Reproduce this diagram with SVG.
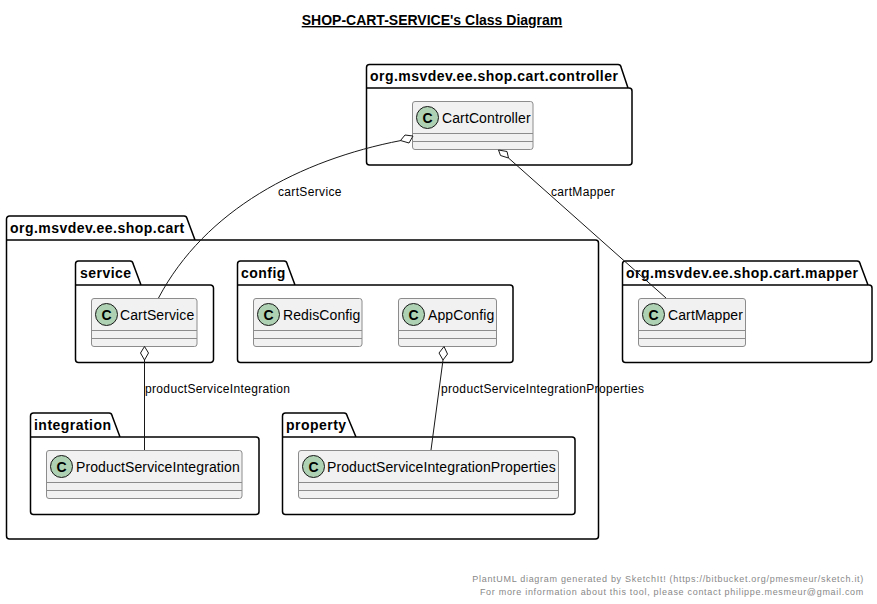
<svg xmlns="http://www.w3.org/2000/svg" width="877" height="604" viewBox="0 0 877 604">
<style>
text{font-family:"Liberation Sans",Arial,sans-serif;fill:#000}
.pkg path{fill:#fff;stroke:#000;stroke-width:1.5}
.pkg text{font-size:14px;font-weight:bold;letter-spacing:.47px}
.cls rect{fill:#F1F1F1;stroke:#8c8c8c;stroke-width:1}
.cls line{stroke:#8c8c8c;stroke-width:1}
.cls circle{fill:#ADD1B2;stroke:#181818;stroke-width:1}
.cls text{font-size:14px;letter-spacing:.11px}
.cls .g{font-size:14px;font-weight:bold;text-anchor:middle}
#connectors path{fill:none;stroke:#181818;stroke-width:1}
#connectors polygon{fill:#fff;stroke:#181818;stroke-width:1}
.lbl{font-size:12px;letter-spacing:.34px}
.foot{font-size:9px;fill:#888;letter-spacing:.7px;text-anchor:end}
</style>
<text x="432" y="25" font-size="14" font-weight="bold" text-anchor="middle" text-decoration="underline">SHOP-CART-SERVICE's Class Diagram</text>

<g id="pkg-controller" class="pkg"><path d="M369.500 64.500H618a3 3 0 0 1 3 2.500L628 88H629a3 3 0 0 1 3 3V162a3 3 0 0 1-3 3H369.500a3 3 0 0 1-3-3V67.500a3 3 0 0 1 3-3ZM366.500 88H628"/><text x="370" y="81">org.msvdev.ee.shop.cart.controller</text></g>
<g id="pkg-cart" class="pkg"><path d="M9.500 216H184a3 3 0 0 1 3 2.500L195 240H595.500a3 3 0 0 1 3 3V536a3 3 0 0 1-3 3H9.500a3 3 0 0 1-3-3V219a3 3 0 0 1 3-3ZM6.500 240H195"/><text x="10" y="233">org.msvdev.ee.shop.cart</text></g>
<g id="pkg-service" class="pkg"><path d="M78.500 261H130a3 3 0 0 1 3 2.500L141 285H210.500a3 3 0 0 1 3 3V359.500a3 3 0 0 1-3 3H78.500a3 3 0 0 1-3-3V264a3 3 0 0 1 3-3ZM75.500 285H141"/><text x="80" y="278">service</text></g>
<g id="pkg-config" class="pkg"><path d="M240.500 261H284a3 3 0 0 1 3 2.500L295 285H510a3 3 0 0 1 3 3V359.500a3 3 0 0 1-3 3H240.500a3 3 0 0 1-3-3V264a3 3 0 0 1 3-3ZM237.500 285H295"/><text x="241" y="278">config</text></g>
<g id="pkg-integration" class="pkg"><path d="M33.500 413H109a3 3 0 0 1 3 2.500L120 437H256a3 3 0 0 1 3 3V511.500a3 3 0 0 1-3 3H33.500a3 3 0 0 1-3-3V416a3 3 0 0 1 3-3ZM30.500 437H120"/><text x="34" y="430">integration</text></g>
<g id="pkg-property" class="pkg"><path d="M285.500 413H344a3 3 0 0 1 3 2.500L356 437H572a3 3 0 0 1 3 3V511.500a3 3 0 0 1-3 3H285.500a3 3 0 0 1-3-3V416a3 3 0 0 1 3-3ZM282.500 437H356"/><text x="286" y="430">property</text></g>
<g id="pkg-mapper" class="pkg"><path d="M625.500 261H857a3 3 0 0 1 3 2.500L868 285H869a3 3 0 0 1 3 3V359.500a3 3 0 0 1-3 3H625.500a3 3 0 0 1-3-3V264a3 3 0 0 1 3-3ZM622.500 285H868"/><text x="626" y="278">org.msvdev.ee.shop.cart.mapper</text></g>

<g id="CartController" class="cls"><rect x="412.500" y="101.500" width="120.500" height="48" rx="2.500"/><line x1="412.500" y1="133.500" x2="533" y2="133.500"/><line x1="412.500" y1="141.500" x2="533" y2="141.500"/><circle cx="427.500" cy="117.500" r="11"/><text class="g" x="427.500" y="122.500">C</text><text x="442" y="123">CartController</text></g>
<g id="CartService" class="cls"><rect x="91.500" y="298.500" width="105.500" height="48" rx="2.500"/><line x1="91.500" y1="330.500" x2="197" y2="330.500"/><line x1="91.500" y1="338.500" x2="197" y2="338.500"/><circle cx="106.500" cy="314.500" r="11"/><text class="g" x="106.500" y="319.500">C</text><text x="120" y="320">CartService</text></g>
<g id="RedisConfig" class="cls"><rect x="253.500" y="298.500" width="108.500" height="48" rx="2.500"/><line x1="253.500" y1="330.500" x2="362" y2="330.500"/><line x1="253.500" y1="338.500" x2="362" y2="338.500"/><circle cx="268.500" cy="314.500" r="11"/><text class="g" x="268.500" y="319.500">C</text><text x="283" y="320">RedisConfig</text></g>
<g id="AppConfig" class="cls"><rect x="398.500" y="298.500" width="98" height="48" rx="2.500"/><line x1="398.500" y1="330.500" x2="496.500" y2="330.500"/><line x1="398.500" y1="338.500" x2="496.500" y2="338.500"/><circle cx="413.500" cy="314.500" r="11"/><text class="g" x="413.500" y="319.500">C</text><text x="428" y="320">AppConfig</text></g>
<g id="ProductServiceIntegration" class="cls"><rect x="46.500" y="450.500" width="195.500" height="48" rx="2.500"/><line x1="46.500" y1="482.500" x2="242" y2="482.500"/><line x1="46.500" y1="490.500" x2="242" y2="490.500"/><circle cx="61.500" cy="466.500" r="11"/><text class="g" x="61.500" y="471.500">C</text><text x="76" y="472">ProductServiceIntegration</text></g>
<g id="ProductServiceIntegrationProperties" class="cls"><rect x="298.500" y="450.500" width="260" height="48" rx="2.500"/><line x1="298.500" y1="482.500" x2="558.500" y2="482.500"/><line x1="298.500" y1="490.500" x2="558.500" y2="490.500"/><circle cx="313.500" cy="466.500" r="11"/><text class="g" x="313.500" y="471.500">C</text><text x="327" y="472">ProductServiceIntegrationProperties</text></g>
<g id="CartMapper" class="cls"><rect x="638.500" y="298.500" width="107" height="48" rx="2.500"/><line x1="638.500" y1="330.500" x2="745.500" y2="330.500"/><line x1="638.500" y1="338.500" x2="745.500" y2="338.500"/><circle cx="653.500" cy="314.500" r="11"/><text class="g" x="653.500" y="319.500">C</text><text x="668" y="320">CartMapper</text></g>

<g id="connectors">
<path d="M401 140.500C300 160 205 210 158.500 298"/><polygon points="413,136 405,135 400.500,140.500 409,143"/>
<path d="M508.500 158L666 298"/><polygon points="498.500,150 507,151.500 508.500,158 500.500,155.500"/>
<path d="M144.500 360V450"/><polygon points="144.500,346.500 140.500,353 144.500,360 148.500,353"/>
<path d="M443 360L431 450"/><polygon points="444,346.500 439,353 443,360 447.500,354"/>
</g>
<text class="lbl" x="278" y="196">cartService</text>
<text class="lbl" x="551" y="196">cartMapper</text>
<text class="lbl" x="145" y="393">productServiceIntegration</text>
<text class="lbl" x="441" y="393">productServiceIntegrationProperties</text>
<text class="foot" x="864" y="582">PlantUML diagram generated by SketchIt! (https://bitbucket.org/pmesmeur/sketch.it)</text>
<text class="foot" x="864" y="595">For more information about this tool, please contact philippe.mesmeur@gmail.com</text>
</svg>
